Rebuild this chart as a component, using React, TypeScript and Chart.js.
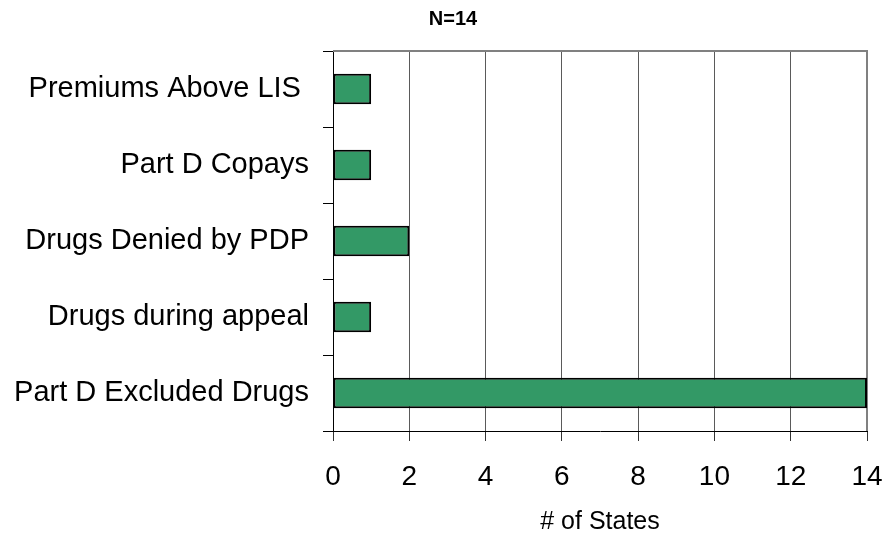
import React, { useEffect, useRef } from "react";
import { Chart, registerables } from "chart.js";

Chart.register(...registerables);

// Coverage categories and the number of states offering each
const categories: string[] = [
  "Premiums Above LIS ",
  "Part D Copays",
  "Drugs Denied by PDP",
  "Drugs during appeal",
  "Part D Excluded Drugs",
];
const stateCounts: number[] = [1, 1, 2, 1, 14];

// Axis range and labels
const xMin = 0;
const xMax = 14;
const xStep = 2;
const chartTitle = "N=14";
const xAxisTitle = "# of States";

const FONT = "'Liberation Sans', Arial, Helvetica, sans-serif";

// Grey frame along the top and right of the plot area
const plotFrame = {
  id: "plotFrame",
  afterLayout(chart: Chart) {
    // let the long category labels use the full left margin without clipping
    const y: any = chart.scales.y;
    if (y) y.left = 0;
  },
  beforeDatasetsDraw(chart: Chart) {
    const { ctx, chartArea } = chart;
    ctx.save();
    ctx.strokeStyle = "#808080";
    ctx.lineWidth = 2;
    ctx.beginPath();
    ctx.moveTo(chartArea.left, chartArea.top);
    ctx.lineTo(chartArea.right, chartArea.top);
    ctx.lineTo(chartArea.right, chartArea.bottom);
    ctx.stroke();
    ctx.restore();
  },
};

export default function App() {
  const canvasRef = useRef<HTMLCanvasElement | null>(null);

  useEffect(() => {
    if (!canvasRef.current) return;
    const chart = new Chart(canvasRef.current, {
      type: "bar",
      data: {
        labels: categories,
        datasets: [
          {
            data: stateCounts,
            backgroundColor: "#339966",
            borderColor: "#000000",
            borderWidth: 2,
            borderSkipped: false,
            categoryPercentage: 1,
            barPercentage: 0.4,
          },
        ],
      },
      options: {
        indexAxis: "y",
        responsive: false,
        animation: false,
        layout: { padding: { left: 39, top: 0, right: 17, bottom: 0 } },
        plugins: {
          legend: { display: false },
          tooltip: { enabled: false },
          title: {
            display: true,
            text: chartTitle,
            color: "#000",
            font: { family: FONT, size: 20, weight: "bold" },
            padding: { top: 7, bottom: 20 },
          },
        },
        scales: {
          x: {
            min: xMin,
            max: xMax,
            ticks: {
              stepSize: xStep,
              color: "#000",
              font: { family: FONT, size: 28 },
              padding: 19,
              maxRotation: 0,
            },
            grid: {
              color: "#5a5a5a",
              tickColor: "#333",
              tickLength: 10,
              lineWidth: 1,
            },
            border: { color: "#000", width: 1 },
            title: {
              display: true,
              text: xAxisTitle,
              color: "#000",
              font: { family: FONT, size: 25, lineHeight: 1.0 },
              padding: { top: 0, bottom: 0 },
            },
            afterFit(scale: any) {
              scale.height = 104;
              scale.paddingLeft = 0;
              scale.paddingRight = 0;
            },
          },
          y: {
            ticks: {
              color: "#000",
              font: { family: FONT, size: 29 },
              padding: 14,
            },
            grid: {
              drawOnChartArea: false,
              color: "#000",
              tickLength: 10,
            },
            border: { color: "#000", width: 1 },
            afterFit(scale: any) {
              scale.width = 294;
            },
          },
        },
      },
      plugins: [plotFrame],
    });
    return () => chart.destroy();
  }, []);

  return (
    <div
      style={{
        position: "fixed",
        left: 0,
        top: 0,
        width: 884,
        height: 535,
        background: "#fff",
      }}
    >
      <canvas
        ref={canvasRef}
        width={884}
        height={535}
        style={{ display: "block" }}
      />
    </div>
  );
}
